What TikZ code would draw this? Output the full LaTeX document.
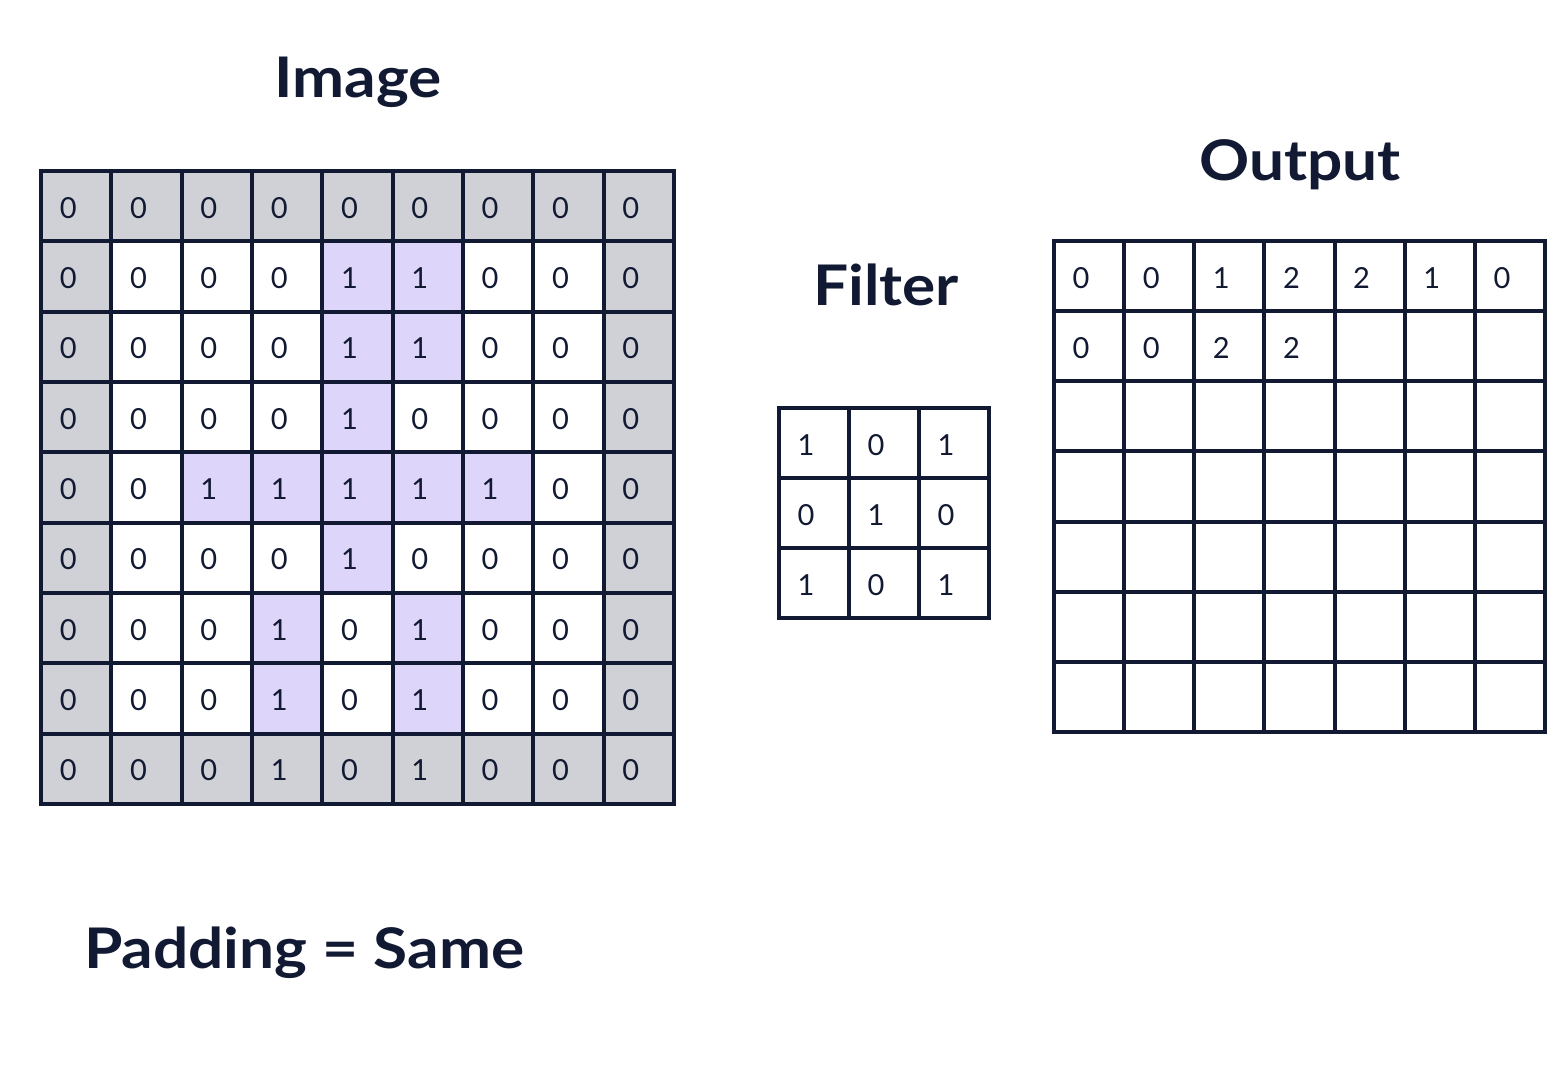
\documentclass[tikz,border=0pt]{standalone}
\usepackage{fontspec}
\setmainfont{Lato}
\newfontfamily\titlefont[FakeStretch=1.11]{Lato}
\begin{document}
\begin{tikzpicture}[x=1pt,y=-1pt,
  cellbox/.style={draw=navy,line width=4pt,fill=white,minimum width=70.3pt,minimum height=70.3pt,inner sep=0pt,outer sep=0pt},
  graycell/.style={cellbox,fill=padgray},
  purplecell/.style={cellbox,fill=onepurple},
  digit/.style={text=navy,font=\fontsize{29}{30}\selectfont,anchor=base,inner sep=0pt},
  titletext/.style={text=navy,font=\titlefont\bfseries\fontsize{56}{60}\selectfont,inner sep=0pt}]
\definecolor{navy}{HTML}{121A33}
\definecolor{padgray}{HTML}{D0D1D7}
\definecolor{onepurple}{HTML}{DED6FA}
\useasboundingbox[fill=white] (0,0) rectangle (1567,1088);
% Image grid
\def\imgrows{{0,0,0,0,0,0,0,0,0},{0,0,0,0,1,1,0,0,0},{0,0,0,0,1,1,0,0,0},{0,0,0,0,1,0,0,0,0},{0,0,1,1,1,1,1,0,0},{0,0,0,0,1,0,0,0,0},{0,0,0,1,0,1,0,0,0},{0,0,0,1,0,1,0,0,0},{0,0,0,1,0,1,0,0,0}}
\foreach \r in {0,...,8}{
  \foreach \c in {0,...,8}{
    \pgfmathtruncatemacro{\v}{{\imgrows}[\r][\c]}
    \pgfmathsetmacro{\cx}{41+70.33*\c+35.17}
    \pgfmathsetmacro{\cy}{171+70.33*\r+35.17}
    \ifnum\r=0 \def\sty{graycell}\else\ifnum\r=8 \def\sty{graycell}\else
      \ifnum\c=0 \def\sty{graycell}\else\ifnum\c=8 \def\sty{graycell}\else
        \ifnum\v=1 \def\sty{purplecell}\else\def\sty{cellbox}\fi\fi\fi\fi\fi
    \node[\sty] (img-\r-\c) at (\cx,\cy) {};
    \node[digit] (imgv-\r-\c) at ([xshift=-8pt,yshift=-12pt]img-\r-\c.center) {\v};
  }
}
% Filter grid
\def\filrows{{1,0,1},{0,1,0},{1,0,1}}
\foreach \r in {0,...,2}{
  \foreach \c in {0,...,2}{
    \pgfmathtruncatemacro{\v}{{\filrows}[\r][\c]}
    \pgfmathsetmacro{\cx}{779+70*\c+35}
    \pgfmathsetmacro{\cy}{408+70*\r+35}
    \node[cellbox,minimum width=70pt,minimum height=70pt] (fil-\r-\c) at (\cx,\cy) {};
    \node[digit] (filv-\r-\c) at ([xshift=-8pt,yshift=-12pt]fil-\r-\c.center) {\v};
  }
}
% Output grid
\foreach \r in {0,...,6}{
  \foreach \c in {0,...,6}{
    \pgfmathsetmacro{\cx}{1054+70.14*\c+35.07}
    \pgfmathsetmacro{\cy}{241+70.14*\r+35.07}
    \node[cellbox,minimum width=70.14pt,minimum height=70.14pt] (out-\r-\c) at (\cx,\cy) {};
  }
}
\foreach \v [count=\c from 0] in {0,0,1,2,2,1,0}{
  \node[digit] (outv-0-\c) at ([xshift=-8pt,yshift=-12pt]out-0-\c.center) {\v};
}
\foreach \v [count=\c from 0] in {0,0,2,2}{
  \node[digit] (outv-1-\c) at ([xshift=-8pt,yshift=-12pt]out-1-\c.center) {\v};
}
% Titles
\node[titletext,anchor=base] (imagetitle) at (358,97) {Image};
\node[titletext,anchor=base] (outputtitle) at (1300,180) {Output};
\node[titletext,anchor=base] (filtertitle) at (886,305) {Filter};
\node[titletext,anchor=base west] (paddingtitle) at (84,968) {Padding = Same};
\end{tikzpicture}
\end{document}
